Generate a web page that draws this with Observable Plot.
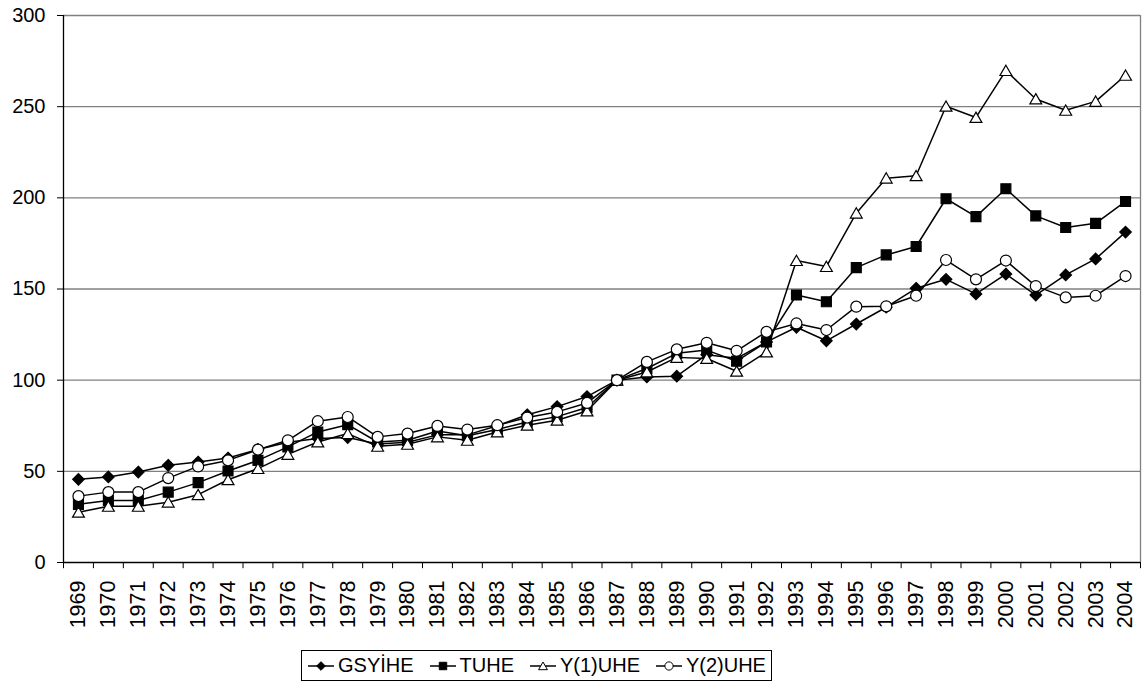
<!DOCTYPE html>
<html><head><meta charset="utf-8">
<script src="https://cdn.jsdelivr.net/npm/d3@7"></script>
<script src="https://cdn.jsdelivr.net/npm/@observablehq/plot@0.6"></script>
<style>
body{margin:0;background:#fff;font-family:"Liberation Sans",Arial,sans-serif;}
#wrap{position:relative;width:1144px;height:689px;overflow:hidden;}
#legend{position:absolute;left:301px;top:650px;height:31px;width:471px;border:1px solid #000;display:flex;align-items:center;justify-content:space-between;padding:0 5px;font-size:20px;box-sizing:border-box;background:#fff;white-space:nowrap}
.item{display:flex;align-items:center}
.item svg{margin-right:3px}
</style>
</head><body>
<div id="wrap"><div id="chart"></div><div id="legend"></div></div>
<script>
const years = ["1969","1970","1971","1972","1973","1974","1975","1976","1977","1978","1979","1980","1981","1982","1983","1984","1985","1986","1987","1988","1989","1990","1991","1992","1993","1994","1995","1996","1997","1998","1999","2000","2001","2002","2003","2004"];
const yTicks = [0,50,100,150,200,250,300];
const seriesNames = ["GSYİHE","TUHE","Y(1)UHE","Y(2)UHE"];
const gsyihe = [45.6,46.9,49.6,53.3,55.1,57.3,62,66,68,68.5,65,66,70,70,75,81,85.5,91,100,101.8,102.2,114,112,121,129,121.6,130.8,140,150.4,155.3,147.3,158.2,146.7,157.7,166.5,181.2];
const tuhe = [31.9,34,34,38.6,43.8,50.2,56,63.4,71.6,75.6,66.1,67,72.1,69.5,73,77,80,85,100,106.4,114.7,116.5,110.4,121,146.7,143,161.7,168.7,173.3,199.5,189.7,205,190.1,183.7,186,198];
const y1uhe = [27.6,30.8,30.8,33.1,37.2,45.4,51.5,59.3,66.1,70.7,63.7,64.8,68.9,67,71.6,75.3,78,83.1,100,104.5,112.5,111.9,104.9,115.5,165.6,162.3,191.6,210.8,212.1,250.2,244.1,269.8,254.2,248,252.9,267.2];
const y2uhe = [36.4,38.6,38.6,46.3,52.7,56,61.9,67,77.5,79.8,68.9,70.7,74.9,72.9,75.3,79.5,82.6,87.5,100,110,116.9,120.5,116.1,126.5,131.1,127.5,140.3,140.5,146.3,165.9,155.3,165.6,151.6,145.4,146.3,157.1];

const W = 1144, H = 640, mL = 63, mR = 4, mT = 15, mB = 78;
const bw = (W - mL - mR) / years.length;

const series = [
  {name: seriesNames[0], values: gsyihe, symbol: d3.symbolDiamond2, fill: "#000", r: 5.2, dy: 0},
  {name: seriesNames[1], values: tuhe, symbol: d3.symbolSquare, fill: "#000", r: 5.6, dy: 0},
  {name: seriesNames[2], values: y1uhe, symbol: d3.symbolTriangle, fill: "#fff", r: 4.4, dy: 1.5},
  {name: seriesNames[3], values: y2uhe, symbol: d3.symbolCircle, fill: "#fff", r: 5.5, dy: 0}
];

const seriesMarks = series.flatMap(s => [
  Plot.line(years, {x: d => d, y: (d, i) => s.values[i], stroke: "#000", strokeWidth: 1.5}),
  Plot.dot(years, {x: d => d, y: (d, i) => s.values[i], symbol: s.symbol, r: s.r, fill: s.fill, stroke: "#000", strokeWidth: 1.2, dy: s.dy})
]);

const chart = Plot.plot({
  width: W, height: H, marginTop: mT, marginBottom: mB, marginLeft: mL, marginRight: mR,
  style: {fontFamily: "'Liberation Sans', Arial, sans-serif", background: "#fff", color: "#000"},
  x: {type: "band", domain: years, padding: 0, axis: null},
  y: {domain: [0, 300], axis: null},
  marks: [
    Plot.ruleY(yTicks.slice(1), {stroke: "#808080", strokeWidth: 1.3}),
    Plot.ruleX([years[years.length - 1]], {dx: bw / 2, y1: 0, y2: 300, stroke: "#808080", strokeWidth: 1.3}),
    Plot.ruleX([years[0]], {dx: -bw / 2, y1: 0, y2: 300, stroke: "#000", strokeWidth: 1.3}),
    Plot.ruleY([0], {stroke: "#000", strokeWidth: 1.3}),
    Plot.axisY(yTicks, {tickSize: 6, tickPadding: 12, fontSize: 20, label: null, stroke: "#000"}),
    Plot.ruleX(years, {x: d => d, y1: 0, y2: -3.4, dx: -bw / 2, stroke: "#000"}),
    Plot.ruleX([years[years.length - 1]], {x: d => d, y1: 0, y2: -3.4, dx: bw / 2, stroke: "#000"}),
    Plot.axisX(years, {tickSize: 0, tickPadding: 18, tickRotate: -90, fontSize: 21.5, label: null}),
    ...seriesMarks
  ]
});
document.getElementById("chart").appendChild(chart);

// legend
const legend = d3.select("#legend");
series.forEach(s => {
  const item = legend.append("div").attr("class", "item");
  const svg = item.append("svg").attr("width", 28).attr("height", 16);
  svg.append("line").attr("x1", 1).attr("x2", 27).attr("y1", 8).attr("y2", 8).attr("stroke", "#000").attr("stroke-width", 1.5);
  svg.append("path").attr("d", d3.symbol(s.symbol, Math.PI * (s.r * 0.75) ** 2)())
    .attr("transform", `translate(14,${8 + s.dy * 0.75})`).attr("fill", s.fill).attr("stroke", "#000");
  item.append("span").text(s.name);
});
</script>
</body></html>
